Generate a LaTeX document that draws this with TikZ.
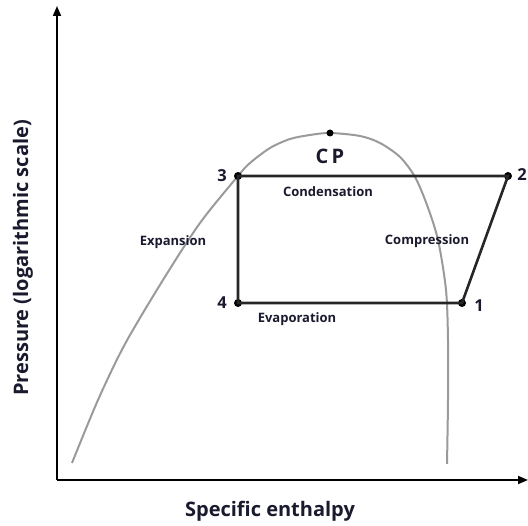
\documentclass[tikz,border=0pt]{standalone}
\usepackage{fontspec}
\setmainfont{Open Sans}
\usetikzlibrary{arrows.meta}
\definecolor{txt}{HTML}{1A1A2E}
\definecolor{dome}{HTML}{9A9A9A}
\tikzset{
  dot/.style={circle,fill=black,inner sep=0pt,minimum size=8pt},
  big/.style={font=\fontsize{16.5}{17}\selectfont\bfseries,text=txt,inner sep=0pt},
  small/.style={font=\fontsize{13}{13}\selectfont\bfseries,text=txt,inner sep=0pt},
  axislab/.style={font=\fontsize{20}{20}\selectfont\bfseries,text=txt,inner sep=0pt},
  axis/.style={line width=1.8pt,-{Triangle[length=10pt,width=8pt]}},
  cycle/.style={line width=2.6pt,draw=black!85},
}
\begin{document}
\begin{tikzpicture}[x=1pt,y=1pt]
\useasboundingbox (0,0) rectangle (528,526);
% dome
\draw[dome,line width=2pt] plot[smooth,tension=0.5] coordinates {
 (72,63) (98,126) (125,182) (163,246) (200,303) (238,350) (250,363) (270,378) (290,387) (310,391)
 (330,393) (360,390) (380,383) (400,369) (415,349) (427,321) (438,286)
 (446,236) (448,186) (448,126) (447,62)};
% axes
\coordinate (O) at (57,46);
\coordinate (Ytip) at (57,520);
\coordinate (Xtip) at (528,46);
\draw[axis] (O) -- (Ytip);
\draw[axis] (O) -- (Xtip);
% points
\node[dot] (p3) at (238,350) {};
\node[dot] (p2) at (508,350) {};
\node[dot] (p4) at (238,223) {};
\node[dot] (p1) at (462,223) {};
\node[dot,minimum size=7pt] (cp) at (330,393) {};
\draw[cycle] (p3.center) -- (p2.center) -- (p1.center) -- (p4.center) -- cycle;
% labels
\node[big] (l3) at (222,350) {3};
\node[big] (l2) at (522,351) {2};
\node[big] (l4) at (222,223) {4};
\node[big] (l1) at (479,220) {1};
\node[big,font=\fontsize{20}{20}\selectfont\bfseries] (lcp) at (330,370) {C\,P};
\node[small] (cond) at (328,334) {Condensation};
\node[small] (comp) at (427,285) {Compression};
\node[small] (evap) at (297,207) {Evaporation};
\node[small] (expa) at (173,284) {Expansion};
\node[axislab] (xl) at (270,15) {Specific enthalpy};
\node[axislab,rotate=90] (yl) at (23,268) {Pressure (logarithmic scale)};
\end{tikzpicture}
\end{document}
